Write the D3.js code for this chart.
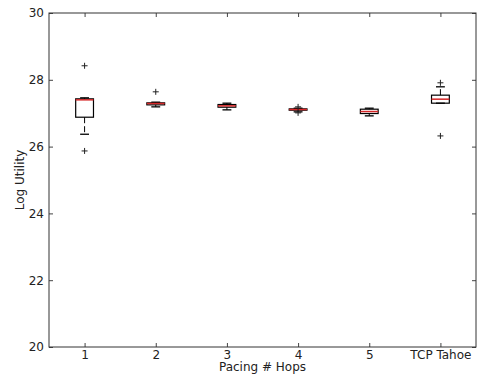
<!DOCTYPE html>
<html lang="en">
<head>
<meta charset="UTF-8">
<title>Log Utility vs Pacing Hops</title>
<script src="https://d3js.org/d3.v7.min.js"></script>
<style>
    body { margin: 0; background: #fff; }
    text { font-family: "DejaVu Sans", sans-serif; fill: #222; }
</style>
</head>
<body>
<svg width="477" height="381"></svg>
<script>
    // box statistics
    const categories = ["1", "2", "3", "4", "5", "TCP Tahoe"];
    const whiskerLow = [26.37, 27.19, 27.10, 27.04, 26.92, 27.30];
    const q1 = [26.88, 27.25, 27.18, 27.09, 26.99, 27.30];
    const median = [27.40, 27.29, 27.22, 27.11, 27.05, 27.42];
    const q3 = [27.43, 27.31, 27.26, 27.13, 27.12, 27.54];
    const whiskerHigh = [27.46, 27.33, 27.30, 27.15, 27.15, 27.79];
    const outliers = [[28.42, 25.87], [27.64], [], [27.19, 27.01], [], [27.91, 26.32]];
    const yTicks = [20, 22, 24, 26, 28, 30];

    let svg = d3.select("svg");
    let margin = {left: 49, top: 13, right: 1, bottom: 34};
    let width = 477 - margin.left - margin.right;
    let height = 381 - margin.top - margin.bottom;

    let g = svg.append("g").attr("transform", `translate(${margin.left},${margin.top})`);

    let x = d3.scaleLinear().domain([0.5, categories.length + 0.5]).range([0, width]);
    let y = d3.scaleLinear().domain([20, 30]).range([height, 0]);
    let boxW = x(1.25) - x(1);   // half of 0.5 width
    let capW = boxW / 2;

    // axes with inward ticks (matplotlib style)
    let pos = categories.map((d, i) => i + 1);
    g.append("g").attr("transform", `translate(0,${height})`)
        .call(d3.axisBottom(x).tickValues(pos).tickFormat((d, i) => categories[i]).tickSize(-4).tickPadding(3));
    g.append("g")
        .call(d3.axisTop(x).tickValues(pos).tickFormat("").tickSize(-4));
    g.append("g")
        .call(d3.axisLeft(y).tickValues(yTicks).tickSize(-4).tickPadding(5));
    g.append("g").attr("transform", `translate(${width},0)`)
        .call(d3.axisRight(y).tickValues(yTicks).tickFormat("").tickSize(-4));

    g.selectAll(".domain").remove();
    g.selectAll(".tick line").attr("stroke", "#444");
    g.selectAll(".tick text").attr("font-size", 12).attr("fill", "#222");

    g.append("rect")
        .attr("width", width).attr("height", height)
        .attr("fill", "none").attr("stroke", "#333").attr("stroke-width", 1);

    // boxes
    let boxes = g.selectAll(".box").data(categories).enter().append("g")
        .attr("transform", (d, i) => `translate(${x(i + 1)},0)`);

    boxes.append("line")
        .attr("y1", (d, i) => y(q3[i])).attr("y2", (d, i) => y(whiskerHigh[i]))
        .attr("stroke", "#000").attr("stroke-dasharray", "6,3");
    boxes.append("line")
        .attr("y1", (d, i) => y(q1[i])).attr("y2", (d, i) => y(whiskerLow[i]))
        .attr("stroke", "#000").attr("stroke-dasharray", "6,3");
    boxes.append("line")
        .attr("x1", -capW / 2).attr("x2", capW / 2)
        .attr("y1", (d, i) => y(whiskerHigh[i])).attr("y2", (d, i) => y(whiskerHigh[i]))
        .attr("stroke", "#000").attr("stroke-width", 1.3);
    boxes.append("line")
        .attr("x1", -capW / 2).attr("x2", capW / 2)
        .attr("y1", (d, i) => y(whiskerLow[i])).attr("y2", (d, i) => y(whiskerLow[i]))
        .attr("stroke", "#000").attr("stroke-width", 1.3);
    boxes.append("rect")
        .attr("x", -boxW / 2).attr("width", boxW)
        .attr("y", (d, i) => y(q3[i]))
        .attr("height", (d, i) => y(q1[i]) - y(q3[i]))
        .attr("fill", "none").attr("stroke", "#000").attr("stroke-width", 1.2);
    boxes.append("line")
        .attr("x1", -boxW / 2).attr("x2", boxW / 2)
        .attr("y1", (d, i) => y(median[i])).attr("y2", (d, i) => y(median[i]))
        .attr("stroke", "#d62728").attr("stroke-width", 1.5);

    // fliers as "+"
    boxes.each(function(d, i) {
        let sel = d3.select(this);
        outliers[i].forEach(v => {
            sel.append("path")
                .attr("d", `M-3,${y(v)}H3M0,${y(v) - 3}V${y(v) + 3}`)
                .attr("stroke", "#222").attr("stroke-width", 1);
        });
    });

    // axis labels
    svg.append("text")
        .attr("x", margin.left + width / 2).attr("y", 371)
        .attr("text-anchor", "middle").attr("font-size", 12)
        .text("Pacing # Hops");
    svg.append("text")
        .attr("transform", `translate(24,${margin.top + height / 2}) rotate(-90)`)
        .attr("text-anchor", "middle").attr("font-size", 12)
        .text("Log Utility");
</script>
</body>
</html>
